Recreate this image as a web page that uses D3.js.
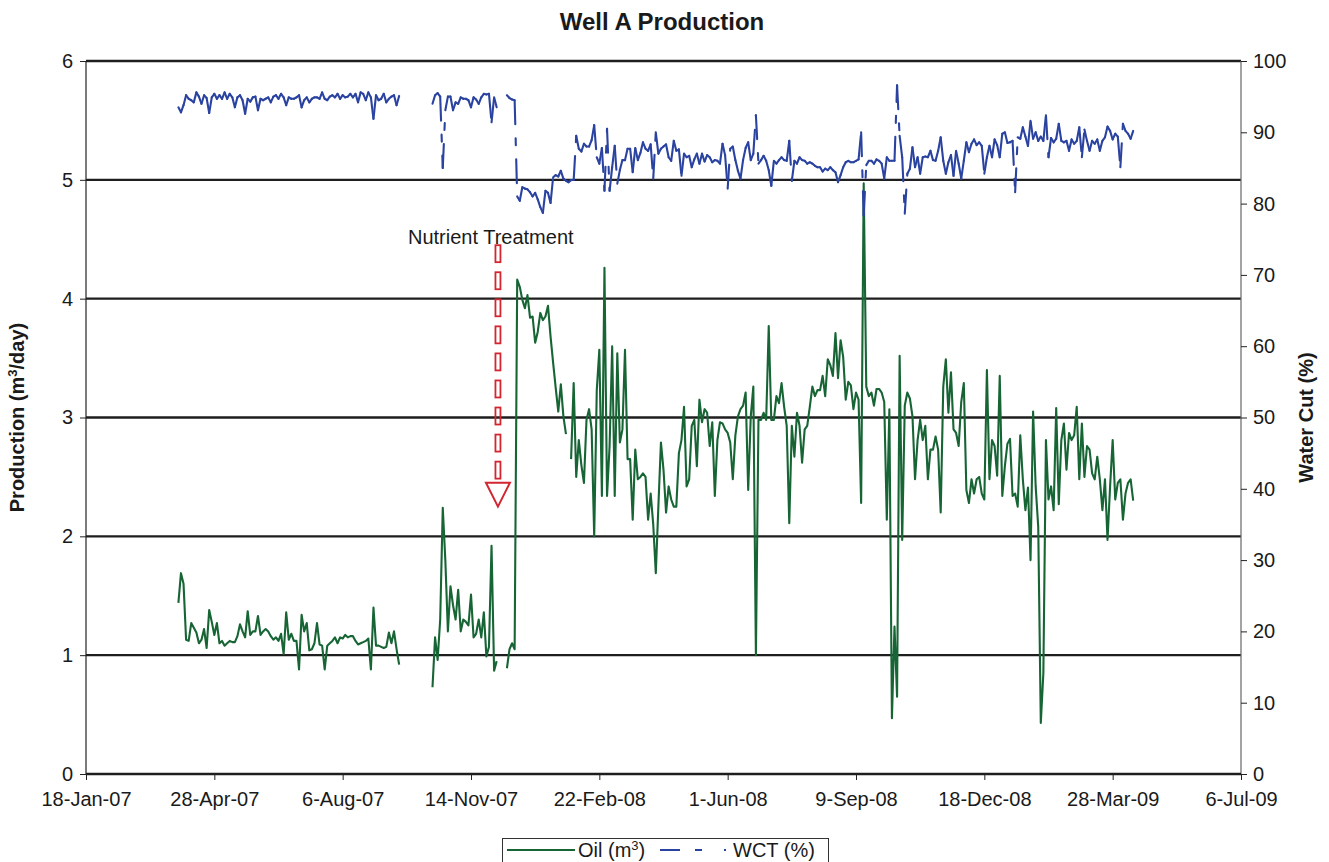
<!DOCTYPE html>
<html><head><meta charset="utf-8">
<script src="https://cdn.jsdelivr.net/npm/d3@7"></script>
<style>
body{margin:0;background:#fff}
svg{display:block}
text{font-family:"Liberation Sans",Arial,Helvetica,sans-serif;fill:#1a1a1a}
</style>
</head><body>
<svg id="chart" width="1329" height="862"></svg>
<script>
// ---------------- DATA ----------------
const axisStart = "2007-01-18";
const axisEnd = "2009-07-06";
const xTickOffsetDays = [0,100,200,300,400,500,600,700,800,900];
const leftTicks = [0,1,2,3,4,5,6];
const rightTicks = [0,10,20,30,40,50,60,70,80,90,100];
const stepDays = 2;

// Oil production (m3/day), segments separated by gaps, one value every 2 days
const oilStarts = ["2007-03-31","2007-10-15","2007-12-12","2008-01-31"];
const oilSeg1 = [1.44,1.69,1.60,1.13,1.12,1.27,1.23,1.19,1.10,1.13,
1.22,1.06,1.38,1.28,1.17,1.27,1.10,1.12,1.08,1.10,
1.12,1.11,1.11,1.16,1.26,1.20,1.15,1.37,1.17,1.20,
1.20,1.33,1.17,1.20,1.22,1.20,1.16,1.13,1.15,1.12,
1.18,1.01,1.36,1.13,1.18,1.12,1.12,0.88,1.34,1.20,
1.27,1.04,1.05,1.10,1.27,1.09,1.08,0.88,1.08,1.10,
1.12,1.15,1.10,1.15,1.14,1.17,1.15,1.16,1.16,1.12,
1.09,1.10,1.11,1.12,1.14,0.88,1.40,1.08,1.08,1.07,
1.06,1.07,1.19,1.10,1.20,1.05,0.92];
const oilSeg2 = [0.73,1.15,0.96,1.30,2.24,1.80,1.20,1.58,1.42,1.30,1.55,1.20,1.30,1.28,1.25,1.51,1.15,1.18,1.30,1.15,1.36,0.99,1.07,1.92,0.87,0.95];
const oilSeg3 = [0.89,1.05,1.10,1.05,4.16,4.10,3.99,3.92,4.03,3.84,3.85,3.63,3.72,3.88,3.82,3.85,3.94,3.68,3.46,3.25,3.05,3.28,3.01,2.86];
const oilSeg4 = [2.65,3.29,2.50,2.81,2.60,2.45,2.98,3.07,2.90,2.00,
3.23,3.57,2.34,4.26,2.34,2.76,3.60,2.34,3.54,2.79,
2.90,3.57,2.65,2.65,2.14,2.73,2.48,2.50,2.53,2.50,
2.14,2.36,2.10,1.69,2.25,2.79,2.56,2.20,2.42,2.31,
2.25,2.25,2.70,2.81,3.09,2.42,2.48,2.93,2.98,2.59,
3.15,2.96,3.07,3.04,2.76,2.96,2.34,2.81,2.96,2.95,
2.90,2.87,2.79,2.48,2.85,3.01,3.07,3.10,3.21,2.39,
3.01,3.26,1.00,2.98,2.98,3.04,2.98,3.77,2.98,2.98,
3.18,3.12,3.29,3.09,2.93,2.11,2.93,2.67,3.04,2.93,
2.62,2.90,2.93,3.09,3.26,3.18,3.23,3.23,3.35,3.18,
3.49,3.44,3.35,3.71,3.33,3.65,3.51,3.15,3.30,3.27,
3.07,3.21,3.15,2.28,4.97,3.26,3.18,3.21,3.10,3.24,
3.24,3.21,3.13,2.14,3.07,0.47,1.24,0.65,3.52,1.97,
3.10,3.21,3.16,3.01,2.48,2.81,2.98,2.81,2.93,2.48,
2.73,2.73,2.84,2.73,2.20,3.26,3.49,3.04,3.38,2.90,
2.87,2.76,3.13,3.29,2.39,2.28,2.48,2.36,2.48,2.50,
2.36,2.31,3.40,2.48,2.81,2.76,2.51,3.35,2.34,2.59,
2.78,2.82,2.34,2.36,2.25,2.85,2.48,2.22,2.41,1.80,
3.05,2.42,2.08,0.43,0.85,2.81,2.31,2.42,2.22,3.08,
2.27,2.81,2.95,2.56,2.87,2.81,2.85,3.09,2.48,2.95,
2.50,2.76,2.73,2.53,2.48,2.67,2.48,2.22,2.48,1.97,
2.42,2.81,2.31,2.45,2.48,2.14,2.36,2.45,2.48,2.30];

// Water cut (%), one value every 2 days
const wctStarts = ["2007-03-31","2007-10-15","2007-12-12"];
const wctSeg1 = [93.5,92.8,93.8,95.2,94.7,94.5,94.2,95.6,95.0,94.0,
95.2,94.8,92.7,94.9,95.4,94.7,95.2,94.7,95.6,94.7,
95.4,94.9,93.5,94.9,95.2,94.5,92.6,94.7,94.3,94.9,
95.0,93.1,94.7,94.5,94.7,94.9,94.2,95.0,95.2,94.7,
95.4,94.9,93.8,94.9,94.7,94.7,94.9,95.2,93.5,94.5,
94.9,94.2,94.7,94.9,94.9,94.7,95.6,94.7,94.5,95.0,
95.2,94.9,95.4,94.7,95.2,94.9,95.0,95.4,94.9,95.4,
94.2,95.6,95.4,94.5,95.6,94.9,91.9,95.2,94.5,94.7,
95.4,94.2,94.7,95.0,95.2,93.8,95.1];
const wctSeg2 = [94.0,95.2,95.5,95.0,85.0,93.1,95.0,95.0,93.1,94.2,94.0,94.9,94.7,94.7,94.5,93.5,94.9,94.6,94.0,94.9,95.4,95.3,95.4,91.4,94.9,93.5];
const wctSeg3 = [95.2,94.8,94.6,94.5,81.0,80.4,82.3,82.1,82.0,81.6,
81.0,81.5,80.6,79.5,78.7,81.8,81.5,80.1,83.7,84.0,
83.8,84.6,83.5,83.2,83.0,83.3,83.3,89.5,87.7,87.3,
88.4,88.0,88.0,88.9,91.0,86.5,85.6,87.8,81.8,90.5,
81.8,85.1,88.1,82.8,84.7,86.1,86.1,87.7,87.7,84.4,
87.8,86.1,87.1,88.6,87.7,87.4,88.3,83.5,90.0,87.0,
87.7,88.0,88.3,86.5,86.0,88.8,87.4,87.6,83.9,87.0,
86.5,86.7,85.1,86.2,87.0,85.6,87.0,85.9,86.8,86.5,
85.8,86.1,86.0,85.6,88.4,86.8,82.1,87.7,88.0,86.1,
84.6,83.5,86.1,87.8,88.6,86.1,87.0,92.4,85.6,86.1,
86.7,86.0,84.7,82.5,86.0,85.6,86.1,86.5,86.1,86.0,
88.8,83.2,86.0,85.6,86.5,86.1,86.0,85.6,85.8,85.6,
85.3,85.1,85.1,84.5,84.9,84.7,85.1,84.7,84.4,83.0,
84.0,85.1,85.8,86.0,85.8,85.8,86.0,86.2,90.0,78.3,
85.4,86.0,86.0,85.6,86.2,86.0,85.6,83.5,86.5,86.0,
86.0,86.0,96.6,89.5,86.5,78.6,84.2,84.9,87.9,85.1,
86.5,84.2,86.5,86.6,86.5,87.4,86.1,86.0,87.4,89.3,
86.0,84.2,85.8,86.8,83.9,87.4,85.6,83.5,86.0,88.6,
87.2,88.4,89.0,88.2,88.6,88.1,84.2,86.5,88.1,86.5,
89.0,88.2,86.5,89.8,90.0,88.5,88.6,88.8,81.6,89.3,
89.1,90.7,89.4,88.1,91.6,89.1,90.0,88.8,89.4,88.8,
92.4,86.5,89.2,88.6,89.1,91.2,88.8,88.6,88.8,87.4,
89.0,88.4,88.8,90.7,86.5,90.4,88.8,87.4,88.8,88.4,
89.0,87.4,88.8,89.3,90.8,90.2,89.0,89.8,89.4,85.1,
91.2,90.2,89.8,89.1,90.2];

// Annotation
const treatmentDate = "2007-12-05";
const treatmentLabel = "Nutrient Treatment";
const arrowTopValue = 4.45;
const arrowTipValue = 2.25;

// ---------------- CHART ----------------
const parse = d3.utcParse("%Y-%m-%d");
const fmt = d3.utcFormat("%-d-%b-%y");
const plot = {left: 86, right: 1241, top: 61, bottom: 774};
const FONT = 20;
const svg = d3.select("#chart");

const x = d3.scaleUtc().domain([parse(axisStart), parse(axisEnd)]).range([plot.left, plot.right]);
const y = d3.scaleLinear().domain([0, 6]).range([plot.bottom, plot.top]);
const y2 = d3.scaleLinear().domain([0, 100]).range([plot.bottom, plot.top]);

function toPoints(start, vals) {
  const s = parse(start);
  return vals.map((v, i) => ({date: d3.utcDay.offset(s, i * stepDays), v}));
}
const oilSegs = [oilSeg1, oilSeg2, oilSeg3, oilSeg4].map((v, i) => toPoints(oilStarts[i], v));
const wctSegs = [wctSeg1, wctSeg2, wctSeg3].map((v, i) => toPoints(wctStarts[i], v));

// Gridlines (left axis values)
svg.append("g").selectAll("line").data(leftTicks.filter(d => d > 0)).join("line")
  .attr("x1", plot.left).attr("x2", plot.right)
  .attr("y1", d => y(d)).attr("y2", d => y(d))
  .attr("stroke", "#1e1e1e").attr("stroke-width", 2.4);

// Left axis
const gL = svg.append("g").attr("transform", `translate(${plot.left},0)`)
  .call(d3.axisLeft(y).tickValues(leftTicks).tickSize(6).tickPadding(7).tickFormat(d3.format("d")));
// Right axis
const gR = svg.append("g").attr("transform", `translate(${plot.right},0)`)
  .call(d3.axisRight(y2).tickValues(rightTicks).tickSize(6).tickPadding(6).tickFormat(d3.format("d")));
// Bottom axis
const xTicks = xTickOffsetDays.map(o => d3.utcDay.offset(parse(axisStart), o));
const gB = svg.append("g").attr("transform", `translate(0,${plot.bottom})`)
  .call(d3.axisBottom(x).tickValues(xTicks).tickSize(6).tickPadding(12).tickFormat(fmt));

[gL, gR, gB].forEach(g => {
  g.selectAll("text").attr("font-size", FONT).attr("fill", "#1a1a1a")
    .style("font-family", '"Liberation Sans",Arial,sans-serif');
  g.selectAll(".tick line").attr("stroke", "#222").attr("stroke-width", 1);
});
gL.select(".domain").attr("stroke", "#222").attr("stroke-width", 1.2).attr("d", `M0,${plot.top}V${plot.bottom}`);
gR.select(".domain").attr("stroke", "#666").attr("stroke-width", 1.2).attr("d", `M0,${plot.top}V${plot.bottom}`);
gB.select(".domain").attr("stroke", "#1e1e1e").attr("stroke-width", 2.4).attr("d", `M${plot.left},0H${plot.right}`);
gB.selectAll(".tick text").attr("dy", "0.71em");

// Oil series
const oilLine = d3.line().x(d => x(d.date)).y(d => y(d.v));
svg.append("g").selectAll("path").data(oilSegs).join("path")
  .attr("d", oilLine).attr("fill", "none")
  .attr("stroke", "#176535").attr("stroke-width", 2.1).attr("stroke-linejoin", "round");

// WCT series: each segment restarts the dash pattern (long jumps show dashes)
const wctDash = "24,14,7,14";
const wctPairs = [];
wctSegs.forEach(seg => { for (let i = 1; i < seg.length; i++) wctPairs.push([seg[i-1], seg[i]]); });
svg.append("g").selectAll("line").data(wctPairs).join("line")
  .attr("x1", d => x(d[0].date)).attr("y1", d => y2(d[0].v))
  .attr("x2", d => x(d[1].date)).attr("y2", d => y2(d[1].v))
  .attr("stroke", "#2b43a0").attr("stroke-width", 2.1).attr("stroke-linecap", "round")
  .attr("stroke-dasharray", wctDash);

// Annotation arrow
const ax = x(parse(treatmentDate));
const aTop = y(arrowTopValue), aTip = y(arrowTipValue);
const triH = 24, triW = 12;
const shaftBottom = aTip - triH - 4;
const nDash = 9, dashLen = 17;
const dashGap = (shaftBottom - aTop - nDash * dashLen) / (nDash - 1);
const ann = svg.append("g");
ann.selectAll("rect").data(d3.range(nDash)).join("rect")
  .attr("x", ax - 2.5).attr("width", 5)
  .attr("y", i => aTop + i * (dashLen + dashGap)).attr("height", dashLen)
  .attr("fill", "none").attr("stroke", "#d22630").attr("stroke-width", 1.8);
ann.append("path")
  .attr("d", `M${ax - triW},${aTip - triH}L${ax + triW},${aTip - triH}L${ax},${aTip}Z`)
  .attr("fill", "none").attr("stroke", "#d22630").attr("stroke-width", 2);
ann.append("text").attr("x", ax - 90).attr("y", aTop - 1)
  .attr("font-size", FONT).attr("fill", "#333").text(treatmentLabel);

// Title
svg.append("text").attr("x", 662).attr("y", 30).attr("text-anchor", "middle")
  .attr("font-size", 24).attr("font-weight", "bold").text("Well A Production");

// Axis titles
const lt = svg.append("text").attr("transform", `translate(24,${(plot.top + plot.bottom) / 2}) rotate(-90)`)
  .attr("text-anchor", "middle").attr("font-size", FONT).attr("font-weight", "bold");
lt.append("tspan").text("Production (m");
lt.append("tspan").attr("baseline-shift", "super").attr("font-size", 13).text("3");
lt.append("tspan").text("/day)");
svg.append("text").attr("transform", `translate(1313,${(plot.top + plot.bottom) / 2}) rotate(-90)`)
  .attr("text-anchor", "middle").attr("font-size", FONT).attr("font-weight", "bold").text("Water Cut (%)");

// Legend
const lg = svg.append("g");
lg.append("rect").attr("x", 502.5).attr("y", 838.5).attr("width", 326).attr("height", 30)
  .attr("fill", "#fff").attr("stroke", "#333").attr("stroke-width", 1);
lg.append("line").attr("x1", 507).attr("x2", 575).attr("y1", 850).attr("y2", 850)
  .attr("stroke", "#176535").attr("stroke-width", 2.1);
const ot = lg.append("text").attr("x", 578).attr("y", 857).attr("font-size", FONT);
ot.append("tspan").text("Oil (m");
ot.append("tspan").attr("baseline-shift", "super").attr("font-size", 13).text("3");
ot.append("tspan").text(")");
lg.append("line").attr("x1", 660).attr("x2", 727).attr("y1", 850).attr("y2", 850)
  .attr("stroke", "#2b43a0").attr("stroke-width", 2.1).attr("stroke-dasharray", "20,15,7,22,2,10");
lg.append("text").attr("x", 733).attr("y", 857).attr("font-size", FONT).text("WCT (%)");
</script>
</body></html>
